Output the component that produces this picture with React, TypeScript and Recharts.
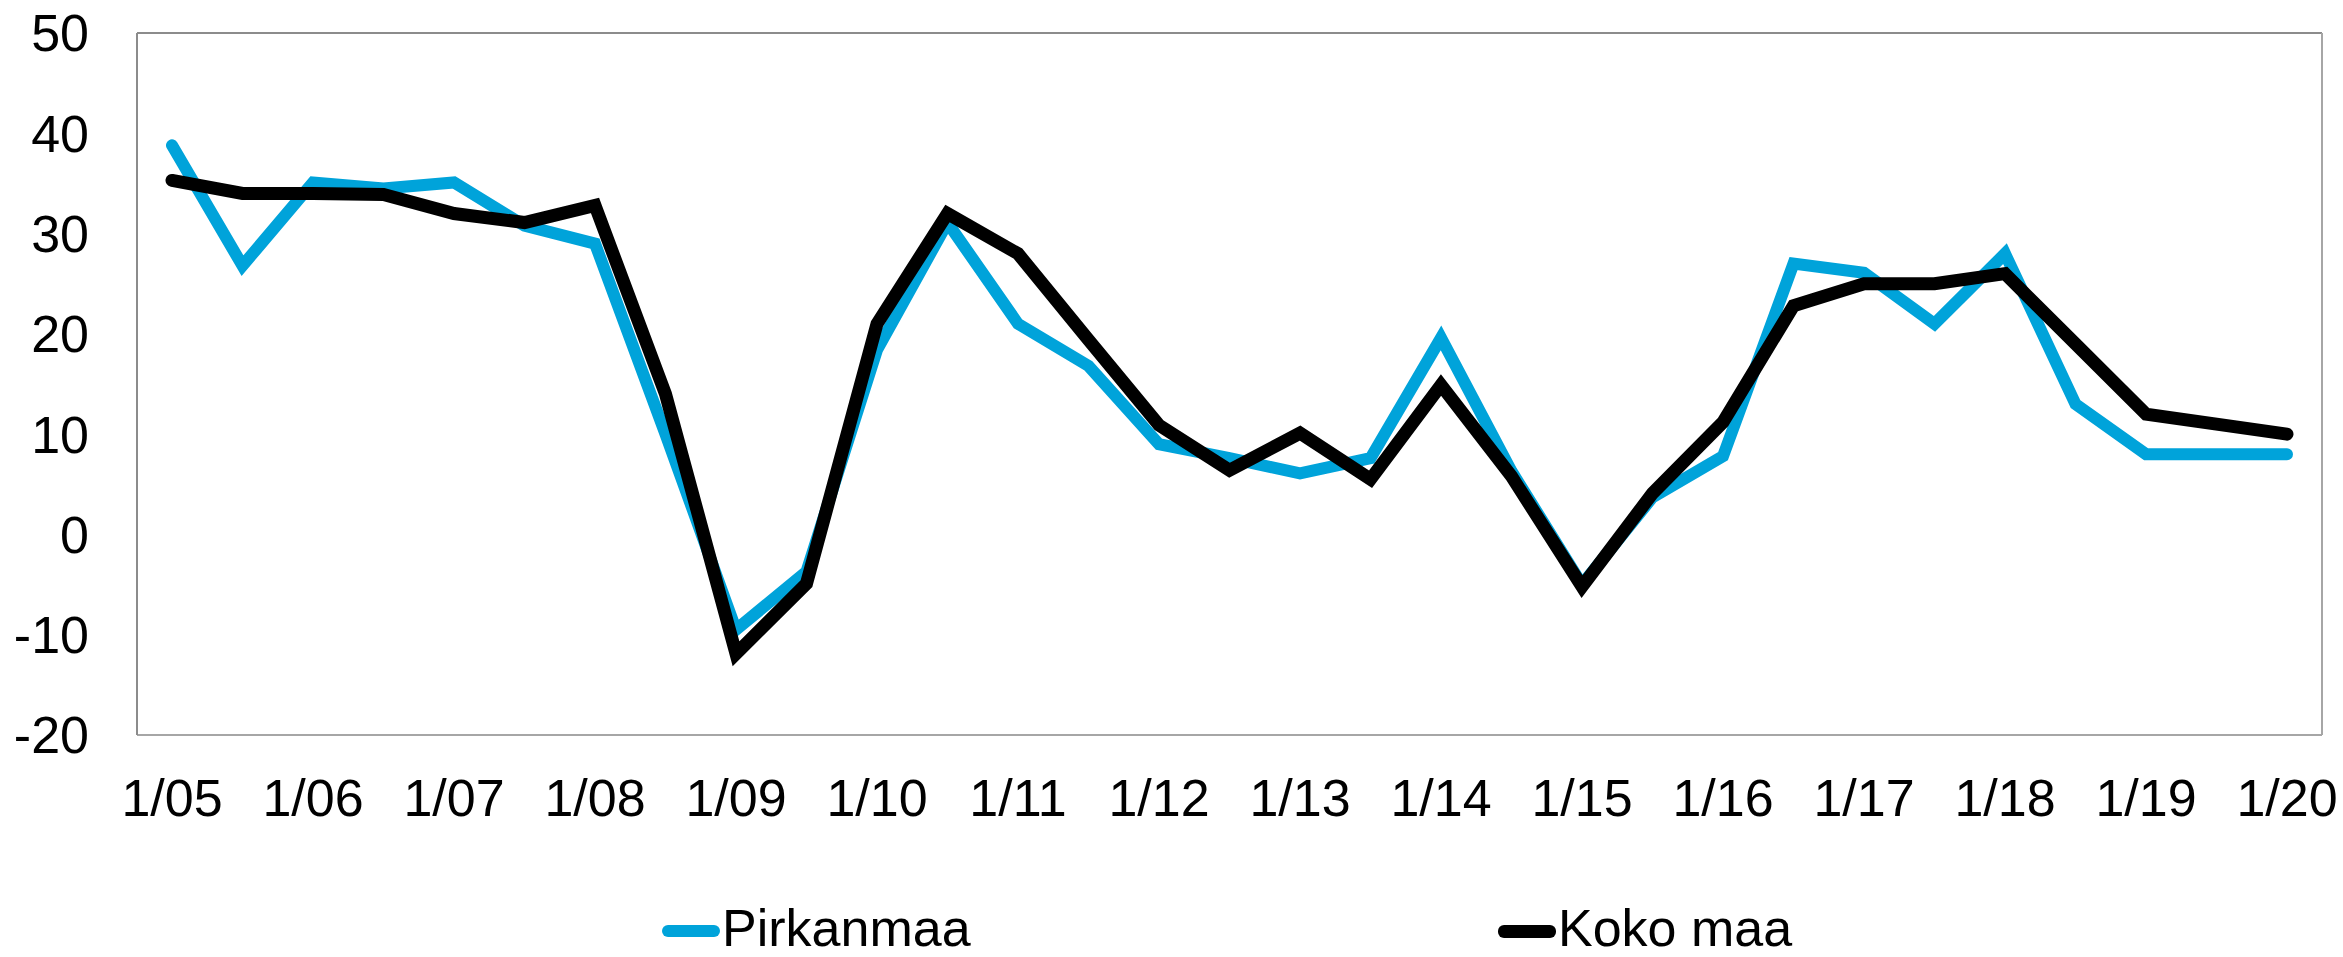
import React from 'react';
import { LineChart, Line, XAxis, YAxis, CartesianGrid } from 'recharts';

const categories = [
  '1/05', '7/05', '1/06', '7/06', '1/07', '7/07', '1/08', '7/08', '1/09', '7/09',
  '1/10', '7/10', '1/11', '7/11', '1/12', '7/12', '1/13', '7/13', '1/14', '7/14',
  '1/15', '7/15', '1/16', '7/16', '1/17', '7/17', '1/18', '7/18', '1/19', '7/19', '1/20',
];

const pirkanmaa = [
  38.8, 26.8, 35.1, 34.5, 35.1, 30.8, 29.0, 10.0, -9.5, -3.7,
  18.4, 31.1, 21.0, 16.8, 9.0, 7.6, 6.1, 7.6, 19.6, 6.3,
  -5.0, 3.7, 7.8, 27.0, 26.1, 21.0, 28.0, 13.0, 8.0, 8.0, 8.0,
];

const kokoMaa = [
  35.3, 34.0, 34.0, 33.9, 32.0, 31.1, 32.8, 14.0, -11.9, -4.9,
  21.0, 32.0, 28.0, 19.4, 10.9, 6.4, 10.1, 5.5, 14.9, 5.8,
  -5.2, 4.1, 11.2, 22.8, 25.0, 25.0, 26.0, 19.0, 12.0, 11.0, 10.0,
];

const yTicks = [-20, -10, 0, 10, 20, 30, 40, 50];

const seriesNames = ['Pirkanmaa', 'Koko maa'];
const BLUE = '#00A3DA';
const BLACK = '#000000';

const data = categories.map((c, i) => ({ cat: c, p: pirkanmaa[i], k: kokoMaa[i] }));

const FONT = '"Liberation Sans", Arial, sans-serif';

export default function App() {
  return (
    <div style={{ position: 'absolute', left: 0, top: 0, width: 2343, height: 957, background: '#fff', fontFamily: FONT, overflow: 'hidden' }}>
      <LineChart width={2343} height={957} data={data} margin={{ top: 33, right: 0, left: 0, bottom: 0 }}>
        <CartesianGrid vertical={false} stroke="#8c8c8c" strokeWidth={2} />
        <XAxis
          dataKey="cat"
          interval={1}
          padding={{ left: 35, right: 35 }}
          height={222}
          tickSize={0}
          tickMargin={44}
          tickLine={false}
          axisLine={{ stroke: '#a6a6a6', strokeWidth: 2 }}
          tick={{ fontSize: 52, fill: '#000', fontFamily: FONT }}
        />
        <YAxis
          yAxisId="left"
          domain={[-20, 50]}
          ticks={yTicks}
          width={137}
          tickSize={0}
          tickMargin={48}
          tickLine={false}
          axisLine={{ stroke: '#8c8c8c', strokeWidth: 2 }}
          tick={{ fontSize: 52, fill: '#000', fontFamily: FONT }}
        />
        <YAxis
          yAxisId="right"
          orientation="right"
          domain={[-20, 50]}
          width={21}
          tick={false}
          tickLine={false}
          axisLine={{ stroke: '#a6a6a6', strokeWidth: 2 }}
        />
        <Line
          yAxisId="left"
          type="linear"
          dataKey="p"
          name={seriesNames[0]}
          stroke={BLUE}
          strokeWidth={12}
          strokeLinecap="round"
          strokeLinejoin="miter"
          dot={false}
          activeDot={false}
          isAnimationActive={false}
        />
        <Line
          yAxisId="left"
          type="linear"
          dataKey="k"
          name={seriesNames[1]}
          stroke={BLACK}
          strokeWidth={13}
          strokeLinecap="round"
          strokeLinejoin="miter"
          dot={false}
          activeDot={false}
          isAnimationActive={false}
        />
      </LineChart>
      <div style={{ position: 'absolute', left: 662, top: 925, width: 58, height: 12, borderRadius: 6, background: BLUE }} />
      <span style={{ position: 'absolute', left: 722, top: 908, fontSize: 52, lineHeight: '40px', color: '#000', whiteSpace: 'nowrap' }}>{seriesNames[0]}</span>
      <div style={{ position: 'absolute', left: 1498, top: 925, width: 58, height: 13, borderRadius: 6, background: BLACK }} />
      <span style={{ position: 'absolute', left: 1558, top: 908, fontSize: 52, lineHeight: '40px', color: '#000', whiteSpace: 'nowrap' }}>{seriesNames[1]}</span>
    </div>
  );
}
